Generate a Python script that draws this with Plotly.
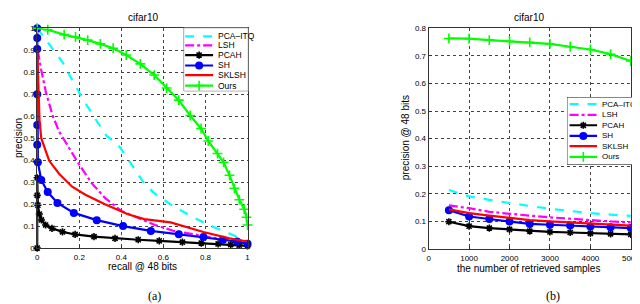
import plotly.graph_objects as go

# ---------------- data: (a) precision-recall @ 48 bits ----------------
itq_r = [0.0, 0.057, 0.12, 0.166, 0.213, 0.276, 0.33, 0.385, 0.447, 0.509, 0.556, 0.634, 0.727, 0.82, 0.914, 1.0]
itq_p = [1.0, 0.927, 0.846, 0.765, 0.684, 0.588, 0.51, 0.47, 0.382, 0.294, 0.25, 0.199, 0.147, 0.103, 0.066, 0.03]

lsh_r = [0.003, 0.019, 0.042, 0.073, 0.104, 0.151, 0.198, 0.26, 0.322, 0.4, 0.478, 0.56, 0.65, 0.75, 0.85, 0.93, 1.0]
lsh_p = [0.897, 0.81, 0.706, 0.603, 0.53, 0.456, 0.382, 0.294, 0.228, 0.169, 0.139, 0.105, 0.078, 0.06, 0.045, 0.032, 0.02]

pcah_r = [0.0, 0.0, 0.0, 0.003, 0.01, 0.02, 0.04, 0.07, 0.12, 0.18, 0.27, 0.37, 0.48, 0.58, 0.69, 0.78, 0.86, 0.92, 0.96, 1.0]
pcah_p = [0.0, 0.32, 0.24, 0.195, 0.155, 0.128, 0.105, 0.09, 0.074, 0.062, 0.052, 0.044, 0.038, 0.033, 0.027, 0.023, 0.019, 0.016, 0.013, 0.01]

sh_r = [0.0, 0.0, 0.0, 0.0, 0.0, 0.0, 0.003, 0.019, 0.05, 0.096, 0.174, 0.283, 0.408, 0.54, 0.673, 0.79, 0.883, 0.95, 1.0]
sh_p = [1.0, 0.955, 0.905, 0.70, 0.56, 0.47, 0.39, 0.31, 0.255, 0.205, 0.16, 0.127, 0.1, 0.078, 0.063, 0.05, 0.038, 0.03, 0.02]

sklsh_r = [0.0, 0.005, 0.011, 0.019, 0.034, 0.057, 0.104, 0.166, 0.229, 0.322, 0.431, 0.509, 0.634, 0.79, 0.914, 1.0]
sklsh_p = [0.9, 0.7, 0.58, 0.5, 0.456, 0.397, 0.338, 0.279, 0.243, 0.199, 0.154, 0.132, 0.117, 0.073, 0.044, 0.03]

ours_r = [0.0, 0.05, 0.128, 0.182, 0.24, 0.30, 0.361, 0.423, 0.49, 0.556, 0.615, 0.673, 0.727, 0.779, 0.813, 0.857, 0.886, 0.914, 0.937, 0.961, 0.984, 0.995, 1.0]
ours_p = [1.0, 0.993, 0.971, 0.96, 0.946, 0.929, 0.909, 0.878, 0.838, 0.787, 0.728, 0.673, 0.603, 0.544, 0.487, 0.43, 0.39, 0.331, 0.272, 0.22, 0.177, 0.14, 0.105]

# ---------------- data: (b) precision @ 48 bits vs retrieved samples ----------------
n_samples = [500, 1000, 1500, 2000, 2500, 3000, 3500, 4000, 4500, 5000]
itq_b = [0.214, 0.191, 0.178, 0.166, 0.156, 0.146, 0.137, 0.13, 0.125, 0.12]
lsh_b = [0.158, 0.148, 0.135, 0.127, 0.121, 0.115, 0.111, 0.105, 0.1, 0.097]
pcah_b = [0.099, 0.083, 0.076, 0.071, 0.065, 0.062, 0.06, 0.057, 0.055, 0.053]
sh_b = [0.141, 0.118, 0.109, 0.1, 0.091, 0.088, 0.085, 0.082, 0.079, 0.076]
sklsh_b = [0.144, 0.13, 0.121, 0.112, 0.105, 0.1, 0.096, 0.092, 0.089, 0.085]
ours_b = [0.763, 0.762, 0.757, 0.753, 0.749, 0.743, 0.733, 0.723, 0.706, 0.681]

names = ["PCA–ITQ", "LSH", "PCAH", "SH", "SKLSH", "Ours"]
colors = ["#00FFFF", "#FF00FF", "#000000", "#0000FF", "#FF0000", "#00FF00"]
dashes = ["dash", "dashdot", "solid", "solid", "solid", "solid"]
symbols = [None, None, "asterisk-open", "circle", None, "cross-thin-open"]
msizes = [0, 0, 6, 8, 0, 7]

FONT = "Liberation Sans, Arial, sans-serif"
fig = go.Figure()

series_a = [(itq_r, itq_p), (lsh_r, lsh_p), (pcah_r, pcah_p), (sh_r, sh_p), (sklsh_r, sklsh_p), (ours_r, ours_p)]
series_b = [itq_b, lsh_b, pcah_b, sh_b, sklsh_b, ours_b]


def marker_for(i):
    if symbols[i] == "circle":
        return dict(symbol="circle", size=msizes[i], color=colors[i])
    return dict(symbol=symbols[i], size=msizes[i], color=colors[i],
                line=dict(color=colors[i], width=1.6))


def add_series(x, y, i, xa, ya):
    mode = "lines+markers" if symbols[i] else "lines"
    marker = marker_for(i) if symbols[i] else None
    fig.add_trace(go.Scatter(x=x, y=y, mode=mode, xaxis=xa, yaxis=ya,
                             line=dict(color=colors[i], width=2.2, dash=dashes[i]),
                             marker=marker, showlegend=False, hoverinfo="skip",
                             cliponaxis=False))


for i, (x, y) in enumerate(series_a):
    add_series(x, y, i, "x", "y")
for i, y in enumerate(series_b):
    add_series(n_samples, y, i, "x2", "y2")


# ---------------- custom legends (MATLAB style compact boxes) ----------------
def add_legend(xa, ya, rows, x0, x1, xt, fsize):
    fig.add_trace(go.Scatter(x=[0, 1, 1, 0, 0], y=[0, 0, 1, 1, 0], mode="lines", fill="toself",
                             fillcolor="white", line=dict(color="black", width=0.8),
                             xaxis=xa, yaxis=ya, showlegend=False, hoverinfo="skip"))
    for i, yy in enumerate(rows):
        fig.add_trace(go.Scatter(x=[x0, x1], y=[yy, yy], mode="lines", xaxis=xa, yaxis=ya,
                                 line=dict(color=colors[i], width=2.2, dash=dashes[i]),
                                 showlegend=False, hoverinfo="skip"))
        if symbols[i]:
            fig.add_trace(go.Scatter(x=[(x0 + x1) / 2], y=[yy], mode="markers", marker=marker_for(i),
                                     xaxis=xa, yaxis=ya, showlegend=False, hoverinfo="skip"))
        fig.add_annotation(x=xt, y=yy, xref=xa, yref=ya, text=names[i], showarrow=False,
                           xanchor="left", yanchor="middle", font=dict(family=FONT, size=fsize, color="black"))


add_legend("x3", "y3", [0.863, 0.721, 0.569, 0.406, 0.254, 0.091], 0.024, 0.455, 0.5, 8.5)
add_legend("x4", "y4", [0.895, 0.737, 0.583, 0.425, 0.273, 0.115], 0.039, 0.455, 0.5, 8)

axis_common = dict(showline=True, linecolor="#333", linewidth=1, mirror=True, ticks="inside",
                   ticklen=3, tickcolor="#333", showgrid=True, gridcolor="#444", griddash="dot",
                   gridwidth=0.7, zeroline=False, tickfont=dict(family=FONT, size=8, color="black"))
hidden = dict(visible=False, range=[0, 1], fixedrange=True, showgrid=False, zeroline=False)

fig.update_layout(
    width=640, height=304, margin=dict(l=0, r=0, t=0, b=0),
    paper_bgcolor="white", plot_bgcolor="white", showlegend=False,
    xaxis=dict(domain=[0.0433, 0.3777], range=[0, 1], tickvals=[0, 0.2, 0.4, 0.6, 0.8, 1],
               ticktext=["0", "0.2", "0.4", "0.6", "0.8", "1"], ticklabelstandoff=1, **axis_common),
    yaxis=dict(domain=[0.1997, 0.945], range=[0, 1], tickvals=[i / 10 for i in range(11)],
               ticktext=["0", "0.1", "0.2", "0.3", "0.4", "0.5", "0.6", "0.7", "0.8", "0.9", "1"],
               ticklabelstandoff=0, **axis_common),
    xaxis2=dict(domain=[0.6656, 0.987], range=[0, 5000], tickvals=list(range(0, 5001, 1000)),
                anchor="y2", ticklabelstandoff=1, **axis_common),
    yaxis2=dict(domain=[0.1964, 0.945], range=[0, 0.8], tickvals=[0, 0.1, 0.2, 0.3, 0.4, 0.5, 0.6, 0.7, 0.8],
                ticktext=["0", "0.1", "0.2", "0.3", "0.4", "0.5", "0.6", "0.7", "0.8"],
                anchor="x2", **axis_common),
    xaxis3=dict(domain=[0.276, 0.379], anchor="y3", **hidden),
    yaxis3=dict(domain=[0.731, 0.947], anchor="x3", **hidden),
    xaxis4=dict(domain=[0.8855, 0.9906], anchor="y4", **hidden),
    yaxis4=dict(domain=[0.4826, 0.7115], anchor="x4", **hidden),
)

txt = dict(family=FONT, size=10, color="black")
ann = [
    dict(x=135 / 640, y=1 - 6 / 304, text="cifar10"),
    dict(x=528 / 640, y=1 - 6 / 304, text="cifar10"),
    dict(x=135 / 640, y=1 - 262 / 304, text="recall @ 48 bits"),
    dict(x=528 / 640, y=1 - 264 / 304, text="the number of retrieved samples"),
]
for a in ann:
    fig.add_annotation(xref="paper", yref="paper", showarrow=False, xanchor="center",
                       yanchor="middle", font=txt, **a)
fig.add_annotation(xref="paper", yref="paper", x=8 / 640, y=1 - 130 / 304, text="precision",
                   textangle=-90, showarrow=False, font=txt, xanchor="center", yanchor="middle")
fig.add_annotation(xref="paper", yref="paper", x=402 / 640, y=1 - 130 / 304, text="precision @ 48 bits",
                   textangle=-90, showarrow=False, font=txt, xanchor="center", yanchor="middle")
serif = dict(family="Liberation Serif, Times New Roman, serif", size=12, color="black")
fig.add_annotation(xref="paper", yref="paper", x=147 / 640, y=1 - 293 / 304, text="(a)",
                   showarrow=False, font=serif, xanchor="center", yanchor="middle")
fig.add_annotation(xref="paper", yref="paper", x=552 / 640, y=1 - 293 / 304, text="(b)",
                   showarrow=False, font=serif, xanchor="center", yanchor="middle")

fig.write_html("out.html")
